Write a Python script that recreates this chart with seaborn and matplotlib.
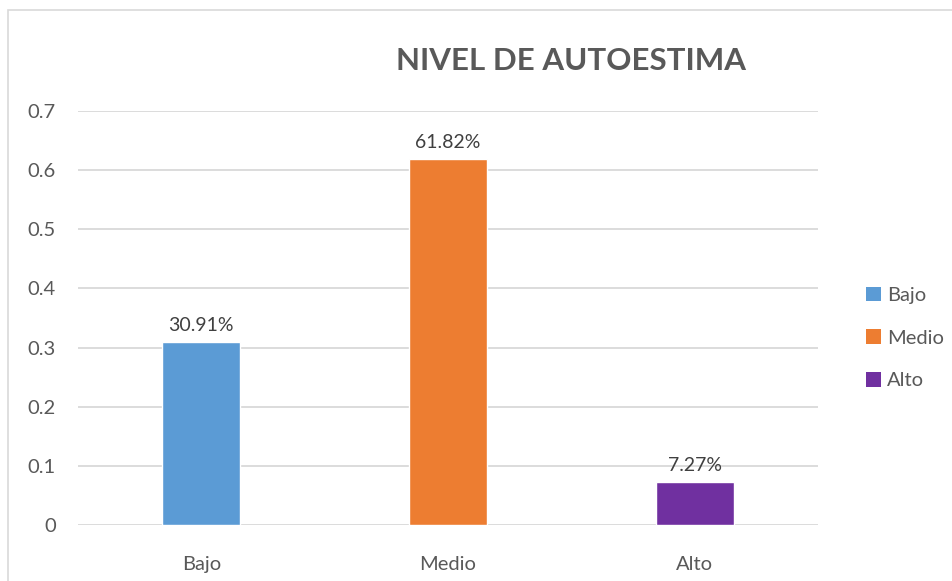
import pandas as pd
import seaborn as sns
import matplotlib.pyplot as plt
from matplotlib.patches import Patch, Rectangle

categorias = ["Bajo", "Medio", "Alto"]
valores = [0.3091, 0.6182, 0.0727]
etiquetas = ["30.91%", "61.82%", "7.27%"]
colores = ["#5B9BD5", "#ED7D31", "#7030A0"]

gris = "#595959"

sns.set_theme(style="white")
plt.rcParams["font.family"] = ["Lato", "DejaVu Sans"]

df = pd.DataFrame({"nivel": categorias, "valor": valores})

fig = plt.figure(figsize=(9.52, 5.81), dpi=100)
ax = fig.add_axes([78 / 952, 1 - 525 / 581, 740 / 952, 414 / 581])

sns.barplot(data=df, x="nivel", y="valor", hue="nivel", palette=colores,
            saturation=1, width=0.316, legend=False, ax=ax, zorder=3)

for cont, lab in zip(ax.containers, etiquetas):
    ax.bar_label(cont, labels=[lab], padding=6, fontsize=14, color="#404040")

ax.set_ylim(0, 0.7)
ax.set_yticks([0, 0.1, 0.2, 0.3, 0.4, 0.5, 0.6, 0.7])
ax.set_yticklabels(["0", "0.1", "0.2", "0.3", "0.4", "0.5", "0.6", "0.7"])
ax.yaxis.grid(True, color="#D9D9D9", linewidth=1.3, zorder=0)
ax.set_axisbelow(True)
for s in ax.spines.values():
    s.set_visible(False)
ax.tick_params(axis="y", length=0, pad=16, labelsize=14.5, labelcolor=gris)
ax.tick_params(axis="x", length=0, pad=22, labelsize=14.5, labelcolor=gris)
ax.set_xlabel("")
ax.set_ylabel("")

fig.text(571 / 952, 1 - 61 / 581, "NIVEL DE AUTOESTIMA", ha="center", va="center",
         fontsize=22.5, fontweight="bold", color=gris)

handles = [Patch(facecolor=c, edgecolor="none") for c in colores]
fig.legend(handles, categorias, loc="center left", bbox_to_anchor=(848 / 952, 1 - 338 / 581),
           frameon=False, fontsize=14.5, labelcolor=gris, handlelength=0.75, handleheight=0.75,
           handletextpad=0.3, labelspacing=1.25)

fig.patches.append(Rectangle((8 / 952, -0.05), 1.0, 1 - 10 / 581 + 0.05, transform=fig.transFigure,
                             fill=False, edgecolor="#D9D9D9", linewidth=1.2))

fig.savefig("out.png", dpi=100)
